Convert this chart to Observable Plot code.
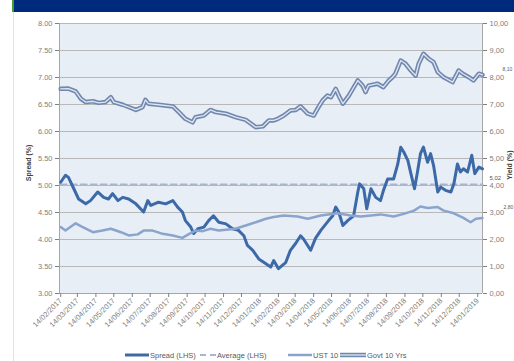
<!DOCTYPE html>
<html>
<head>
<meta charset="utf-8">
<script src="https://cdn.jsdelivr.net/npm/d3@7"></script>
<script src="https://cdn.jsdelivr.net/npm/@observablehq/plot@0.6"></script>
<style>
html,body{margin:0;padding:0;background:#fff;}
body{width:514px;height:361px;overflow:hidden;position:relative;font-family:"Liberation Sans",Arial,sans-serif;}
#band{position:absolute;left:12px;top:0;width:500px;height:12px;background:#002a7c;border-left:2px solid #4a9a3a;}
#edge{position:absolute;left:13px;top:12px;width:1px;height:349px;background:#e3e3e3;}
#chart{position:absolute;left:0;top:12px;}
.ytitle{position:absolute;font-size:7px;font-weight:bold;color:#404040;white-space:nowrap;transform:translate(-50%,-50%) rotate(-90deg);}
#legend{position:absolute;left:0;top:350px;width:514px;height:11px;font-size:7.5px;color:#595959;}
.li{position:absolute;top:0;display:flex;align-items:center;height:10px;white-space:nowrap;}
.li svg{margin-right:1px;}
</style>
</head>
<body>
<div id="band"></div>
<div id="edge"></div>
<div id="chart"></div>
<div class="ytitle" style="left:28px;top:163px">Spread (%)</div>
<div class="ytitle" style="left:509px;top:165px">Yield (%)</div>
<div id="legend"></div>
<script>
// ---- data ----
const spreadDates = ["2017-02-14","2017-02-22","2017-02-27","2017-03-08","2017-03-16","2017-03-28","2017-04-05","2017-04-17","2017-04-27","2017-05-05","2017-05-12","2017-05-21","2017-05-29","2017-06-08","2017-06-20","2017-07-03","2017-07-10","2017-07-15","2017-07-28","2017-08-09","2017-08-21","2017-08-29","2017-09-06","2017-09-11","2017-09-20","2017-09-25","2017-10-02","2017-10-12","2017-10-20","2017-10-28","2017-11-06","2017-11-18","2017-11-29","2017-12-09","2017-12-18","2017-12-24","2018-01-02","2018-01-12","2018-01-24","2018-02-01","2018-02-06","2018-02-14","2018-02-26","2018-03-06","2018-03-15","2018-03-23","2018-03-28","2018-04-09","2018-04-17","2018-04-26","2018-05-09","2018-05-16","2018-05-21","2018-05-26","2018-06-02","2018-06-10","2018-06-20","2018-06-27","2018-06-30","2018-07-07","2018-07-12","2018-07-19","2018-07-27","2018-08-04","2018-08-09","2018-08-16","2018-08-26","2018-09-02","2018-09-07","2018-09-12","2018-09-19","2018-09-24","2018-09-30","2018-10-05","2018-10-10","2018-10-15","2018-10-22","2018-10-27","2018-11-01","2018-11-08","2018-11-13","2018-11-21","2018-11-30","2018-12-05","2018-12-11","2018-12-16","2018-12-21","2018-12-28","2019-01-04","2019-01-09","2019-01-16","2019-01-22"];
const spreadValues = [5.06,5.19,5.15,4.94,4.75,4.66,4.72,4.88,4.78,4.75,4.85,4.72,4.78,4.75,4.66,4.51,4.72,4.63,4.69,4.66,4.72,4.60,4.51,4.35,4.23,4.11,4.20,4.23,4.35,4.44,4.32,4.29,4.20,4.17,4.07,3.89,3.80,3.64,3.55,3.49,3.61,3.46,3.57,3.80,3.93,4.07,4.01,3.80,4.02,4.17,4.35,4.44,4.60,4.51,4.26,4.35,4.44,4.88,5.03,4.94,4.57,4.94,4.78,4.72,4.91,5.12,5.12,5.40,5.71,5.62,5.46,5.22,4.94,5.25,5.59,5.71,5.43,5.59,5.37,4.88,4.97,4.91,4.88,5.03,5.40,5.25,5.31,5.25,5.56,5.22,5.34,5.31];

const govtDates = ["2017-02-14","2017-02-27","2017-03-11","2017-03-20","2017-03-28","2017-04-09","2017-04-19","2017-04-30","2017-05-09","2017-05-14","2017-05-29","2017-06-11","2017-06-20","2017-07-01","2017-07-06","2017-07-11","2017-07-28","2017-08-21","2017-08-31","2017-09-11","2017-09-23","2017-09-28","2017-10-12","2017-10-23","2017-11-01","2017-11-18","2017-12-04","2017-12-21","2018-01-07","2018-01-19","2018-01-29","2018-02-06","2018-02-13","2018-02-23","2018-03-06","2018-03-15","2018-03-23","2018-04-04","2018-04-14","2018-04-22","2018-04-29","2018-05-07","2018-05-13","2018-05-21","2018-05-26","2018-06-02","2018-06-12","2018-06-27","2018-07-05","2018-07-10","2018-07-15","2018-07-30","2018-08-09","2018-08-18","2018-08-24","2018-08-29","2018-09-07","2018-09-15","2018-09-24","2018-10-02","2018-10-07","2018-10-15","2018-10-24","2018-11-01","2018-11-08","2018-11-18","2018-12-03","2018-12-13","2018-12-20","2018-12-30","2019-01-07","2019-01-16","2019-01-22"];
const govtValues = [7.58,7.59,7.49,7.21,7.09,7.12,7.06,7.09,7.27,7.09,6.99,6.88,6.80,6.90,7.17,7.03,6.99,6.93,6.72,6.47,6.34,6.53,6.59,6.80,6.72,6.66,6.53,6.43,6.16,6.19,6.41,6.41,6.47,6.59,6.78,6.80,6.93,6.66,6.59,6.90,7.15,7.33,7.27,7.58,7.33,7.03,7.33,7.89,7.70,7.46,7.70,7.77,7.64,7.89,8.01,8.14,8.63,8.51,8.26,8.07,8.51,8.88,8.69,8.57,8.20,8.01,7.83,8.26,8.14,8.01,7.89,8.14,8.10];

const ustDates = ["2017-02-14","2017-02-22","2017-03-11","2017-03-23","2017-04-09","2017-04-25","2017-05-09","2017-05-26","2017-06-08","2017-06-23","2017-07-03","2017-07-18","2017-08-04","2017-08-21","2017-09-06","2017-09-16","2017-09-28","2017-10-10","2017-10-23","2017-11-06","2017-11-18","2017-12-04","2017-12-21","2018-01-07","2018-01-24","2018-02-06","2018-02-23","2018-03-18","2018-04-04","2018-04-26","2018-05-24","2018-06-15","2018-07-02","2018-07-19","2018-08-04","2018-08-26","2018-09-12","2018-09-29","2018-10-10","2018-10-22","2018-11-08","2018-11-18","2018-12-05","2018-12-21","2019-01-02","2019-01-11","2019-01-22"];
const ustValues = [2.46,2.33,2.60,2.46,2.27,2.33,2.40,2.27,2.15,2.19,2.33,2.33,2.21,2.15,2.06,2.19,2.33,2.31,2.40,2.33,2.36,2.40,2.52,2.64,2.77,2.83,2.89,2.85,2.77,2.89,2.97,2.89,2.85,2.89,2.93,2.85,2.95,3.07,3.22,3.17,3.20,3.07,2.97,2.80,2.64,2.77,2.80];

const averageValue = 5.02;
const leftTicks = [3, 3.5, 4, 4.5, 5, 5.5, 6, 6.5, 7, 7.5, 8];
const rightTicks = [0, 1, 2, 3, 4, 5, 6, 7, 8, 9, 10];
const xTickLabels = ["14/02/2017","14/03/2017","14/04/2017","14/05/2017","14/06/2017","14/07/2017","14/08/2017","14/09/2017","14/10/2017","14/11/2017","14/12/2017","14/01/2018","14/02/2018","14/03/2018","14/04/2018","14/05/2018","14/06/2018","14/07/2018","14/08/2018","14/09/2018","14/10/2018","14/11/2018","14/12/2018","14/01/2019"];
const seriesNames = ["Spread (LHS)", "Average (LHS)", "UST 10", "Govt 10 Yrs"];

// ---- build ----
const parse = d3.utcParse("%Y-%m-%d");
const parseTick = d3.utcParse("%d/%m/%Y");
const toLeft = v => 3 + v / 2; // secondary axis (0..10) drawn on primary (3..8)
const comma = v => v.toFixed(2).replace(".", ",");

const spread = spreadDates.map((d, i) => ({date: parse(d), value: spreadValues[i]}));
const govt = govtDates.map((d, i) => ({date: parse(d), value: govtValues[i]}));
const ust = ustDates.map((d, i) => ({date: parse(d), value: ustValues[i]}));
const average = [spread[0].date, spread[spread.length - 1].date].map(date => ({date, value: averageValue}));
const tickDates = xTickLabels.map(parseTick);
const xDomain = [parse("2017-02-12"), parse("2019-01-22")];

const chart = Plot.plot({
  width: 514,
  height: 333,
  marginLeft: 59,
  marginRight: 32,
  marginTop: 11,
  marginBottom: 52,
  style: {fontFamily: "'Liberation Sans', Arial, sans-serif", fontSize: "7.5px", background: "transparent", color: "#7f7f7f"},
  x: {type: "utc", domain: xDomain},
  y: {domain: [3, 8]},
  marks: [
    Plot.frame({fill: "#e8eef6", stroke: null}),
    Plot.gridY(leftTicks, {stroke: "#b8b8b8", strokeOpacity: 1}),
    Plot.ruleX(xDomain, {stroke: "#a6a6a6"}),
    Plot.ruleY([3], {stroke: "#a6a6a6"}),
    Plot.axisY(leftTicks, {anchor: "left", tickSize: 4, tickPadding: 3, tickFormat: d => d.toFixed(2), label: null, color: "#808080"}),
    Plot.axisY(rightTicks.map(toLeft), {anchor: "right", tickSize: 4, tickPadding: 3, tickFormat: d => comma((d - 3) * 2), label: null, color: "#808080"}),
    Plot.axisX(tickDates, {tickRotate: -45, tickSize: 4, tickPadding: 2, tickFormat: d3.utcFormat("%d/%m/%Y"), label: null, color: "#808080"}),
    Plot.lineY(average, {x: "date", y: "value", stroke: "#a9b5cf", strokeWidth: 2, strokeDasharray: "6,4"}),
    Plot.lineY(spread, {x: "date", y: "value", stroke: "#3c6aa8", strokeWidth: 3, strokeLinejoin: "round"}),
    Plot.lineY(ust, {x: "date", y: d => toLeft(d.value), stroke: "#8ba4cd", strokeWidth: 2.5, strokeLinejoin: "round"}),
    Plot.lineY(govt, {x: "date", y: d => toLeft(d.value), stroke: "#7188ae", strokeWidth: 4.5, strokeLinejoin: "round"}),
    Plot.lineY(govt, {x: "date", y: d => toLeft(d.value), stroke: "#dfe6f1", strokeWidth: 1.3, strokeLinejoin: "round"}),
    Plot.text([govt[govt.length - 1]], {x: "date", y: d => toLeft(d.value), text: d => comma(d.value), dx: 20, dy: -5, textAnchor: "start", fontSize: 5, fill: "#595959"}),
    Plot.text([average[1]], {x: "date", y: "value", text: d => comma(d.value), dx: 7, dy: -6, textAnchor: "start", fontSize: 6, fill: "#595959"}),
    Plot.text([ust[ust.length - 1]], {x: "date", y: d => toLeft(d.value), text: d => comma(d.value), dx: 21, dy: -11, textAnchor: "start", fontSize: 5, fill: "#595959"})
  ]
});
document.getElementById("chart").appendChild(chart);

// ---- legend ----
const swatches = [
  '<svg width="24" height="6"><line x1="0" y1="3" x2="24" y2="3" stroke="#3c6aa8" stroke-width="3"/></svg>',
  '<svg width="16" height="6"><line x1="0" y1="3" x2="16" y2="3" stroke="#a9b5cf" stroke-width="2" stroke-dasharray="6,4"/></svg>',
  '<svg width="24" height="6"><line x1="0" y1="3" x2="24" y2="3" stroke="#8ba4cd" stroke-width="2.5"/></svg>',
  '<svg width="26" height="6"><line x1="0" y1="3" x2="26" y2="3" stroke="#7188ae" stroke-width="4.5"/><line x1="0" y1="3" x2="26" y2="3" stroke="#dfe6f1" stroke-width="1.3"/></svg>'
];
const legendLefts = [125, 200, 288, 340];
const legend = document.getElementById("legend");
seriesNames.forEach((name, i) => {
  const item = document.createElement("div");
  item.className = "li";
  item.style.left = legendLefts[i] + "px";
  item.innerHTML = swatches[i] + "<span>" + name + "</span>";
  legend.appendChild(item);
});
</script>
</body>
</html>
